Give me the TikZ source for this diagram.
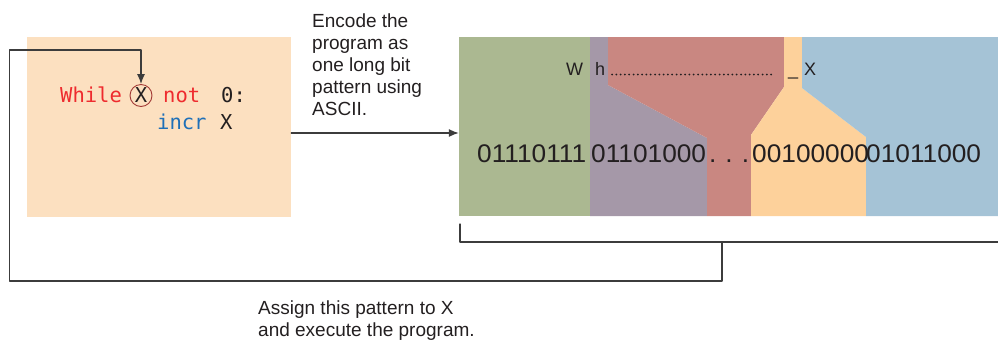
\documentclass[tikz,border=0pt]{standalone}
\usepackage{fontspec}
\setmainfont{Liberation Sans}
\newfontfamily\codefont{DejaVu Sans Mono}
\newfontfamily\bitfont{Liberation Sans}[FakeStretch=1.03]
\usepackage{xcolor}
\usetikzlibrary{arrows.meta,positioning}
\definecolor{peach}{RGB}{252,224,192}
\definecolor{bytegreen}{RGB}{171,184,145}
\definecolor{bytepurple}{RGB}{165,152,168}
\definecolor{byterose}{RGB}{201,135,129}
\definecolor{byteorange}{RGB}{253,209,155}
\definecolor{byteblue}{RGB}{165,195,214}
\definecolor{codered}{RGB}{238,43,46}
\definecolor{codeblue}{RGB}{31,112,184}
\definecolor{ringred}{RGB}{162,58,54}
\definecolor{ink}{RGB}{35,31,32}
\definecolor{linegray}{RGB}{60,60,60}
\tikzset{
  conn/.style={draw=linegray, line width=1.2pt},
  tip/.style={-{Latex[length=10pt,width=8pt]}},
  progbox/.style={fill=peach, minimum width=264pt, minimum height=180pt, inner sep=0pt},
  code/.style={anchor=base west, inner sep=0pt, font=\codefont\fontsize{20.5}{24}\selectfont},
  ringx/.style={circle, draw=ringred, line width=0.9pt, minimum size=22pt, inner sep=0pt,
    font=\codefont\fontsize{20.5}{24}\selectfont, text=ink},
  bits/.style={anchor=base west, inner sep=0pt, font=\bitfont\fontsize{25.5}{30}\selectfont, text=ink},
  chars/.style={anchor=base west, inner sep=0pt, font=\fontsize{18}{22}\selectfont, text=ink},
  dotrow/.style={draw=ink, line width=2pt, dash pattern=on 0pt off 4.3pt, line cap=round},
  note/.style={anchor=north west, inner sep=0pt, align=left, font=\fontsize{19}{22}\selectfont, text=ink},
  every picture/.style={line cap=round, line join=round}
}

\begin{document}
\begin{tikzpicture}[x=1pt, y=-1pt]
  \useasboundingbox (0,0) rectangle (998,341);

  \node[progbox] (prog) at (159,127) {};
  \node[code, text=codered] (kwwhile) at (60,102.5) {While};
  \node[ringx] (ringX) at (141,95.5) {X};
  \node[code, text=codered] (kwnot) at (163,102.5) {not};
  \node[code, text=ink] (zero) at (221,102.5) {0:};
  \node[code, text=codeblue] (kwincr) at (157,129.5) {incr};
  \node[code, text=ink] (varx) at (220,129.5) {X};

  \node[inner sep=0pt, minimum width=539pt, minimum height=179pt] (panel) at (728.5,126.5) {};
  \fill[bytegreen] (459,37) -- (590,37) -- (590,216) -- (459,216) -- cycle;
  \fill[bytepurple] (590,37) -- (608,37) -- (608,85) -- (707,138) -- (707,216) -- (590,216) -- cycle;
  \fill[byterose] (608,37) -- (784,37) -- (784,87) -- (751,135) -- (751,216) -- (707,216)
    -- (707,138) -- (608,85) -- cycle;
  \fill[byteorange] (784,37) -- (802,37) -- (802,88) -- (866,137) -- (866,216) -- (751,216)
    -- (751,135) -- (784,87) -- cycle;
  \fill[byteblue] (802,37) -- (998,37) -- (998,216) -- (866,216) -- (866,137) -- (802,88) -- cycle;

  \node[chars] (chW) at (566,75.5) {W};
  \node[chars] (chh) at (595,75.5) {h};
  \coordinate (dotA) at (612,74.5);
  \coordinate (dotB) at (775,74.5);
  \draw[dotrow] (dotA) -- (dotB);
  \node[chars] (chsp) at (788,75.5) {\_};
  \node[chars] (chX) at (804,75.5) {X};

  \node[bits] (byteW) at (477,162) {01110111};
  \node[bits] (byteh) at (591,162) {01101000};
  \node[bits] (bytedots) at (709,162) {.\hspace{9pt}.\hspace{9pt}.};
  \node[bits] (bytesp) at (752,162) {00100000};
  \node[bits] (byteX) at (866,162) {01011000};

  \node[note] (encode) at (312,14) {Encode the\\program as\\one long bit\\pattern using\\ASCII.};
  \node[note] (assign) at (258,301) {Assign this pattern to X\\and execute the program.};

  \coordinate (encA) at ([yshift=-6pt]prog.east);
  \draw[conn, tip] (encA) -- (encA -| panel.west);

  \coordinate (brL) at (460,224);
  \coordinate (brLb) at (460,242);
  \coordinate (brR) at (998,242);
  \coordinate (brM) at (722,242);
  \coordinate (lpA) at (9.5,281);
  \coordinate (lpB) at (9.5,50);
  \draw[conn] (brL) -- (brLb) -- (brR);
  \draw[conn, tip] (brM) |- (lpA) -- (lpB) -| (ringX.north);
\end{tikzpicture}
\end{document}
